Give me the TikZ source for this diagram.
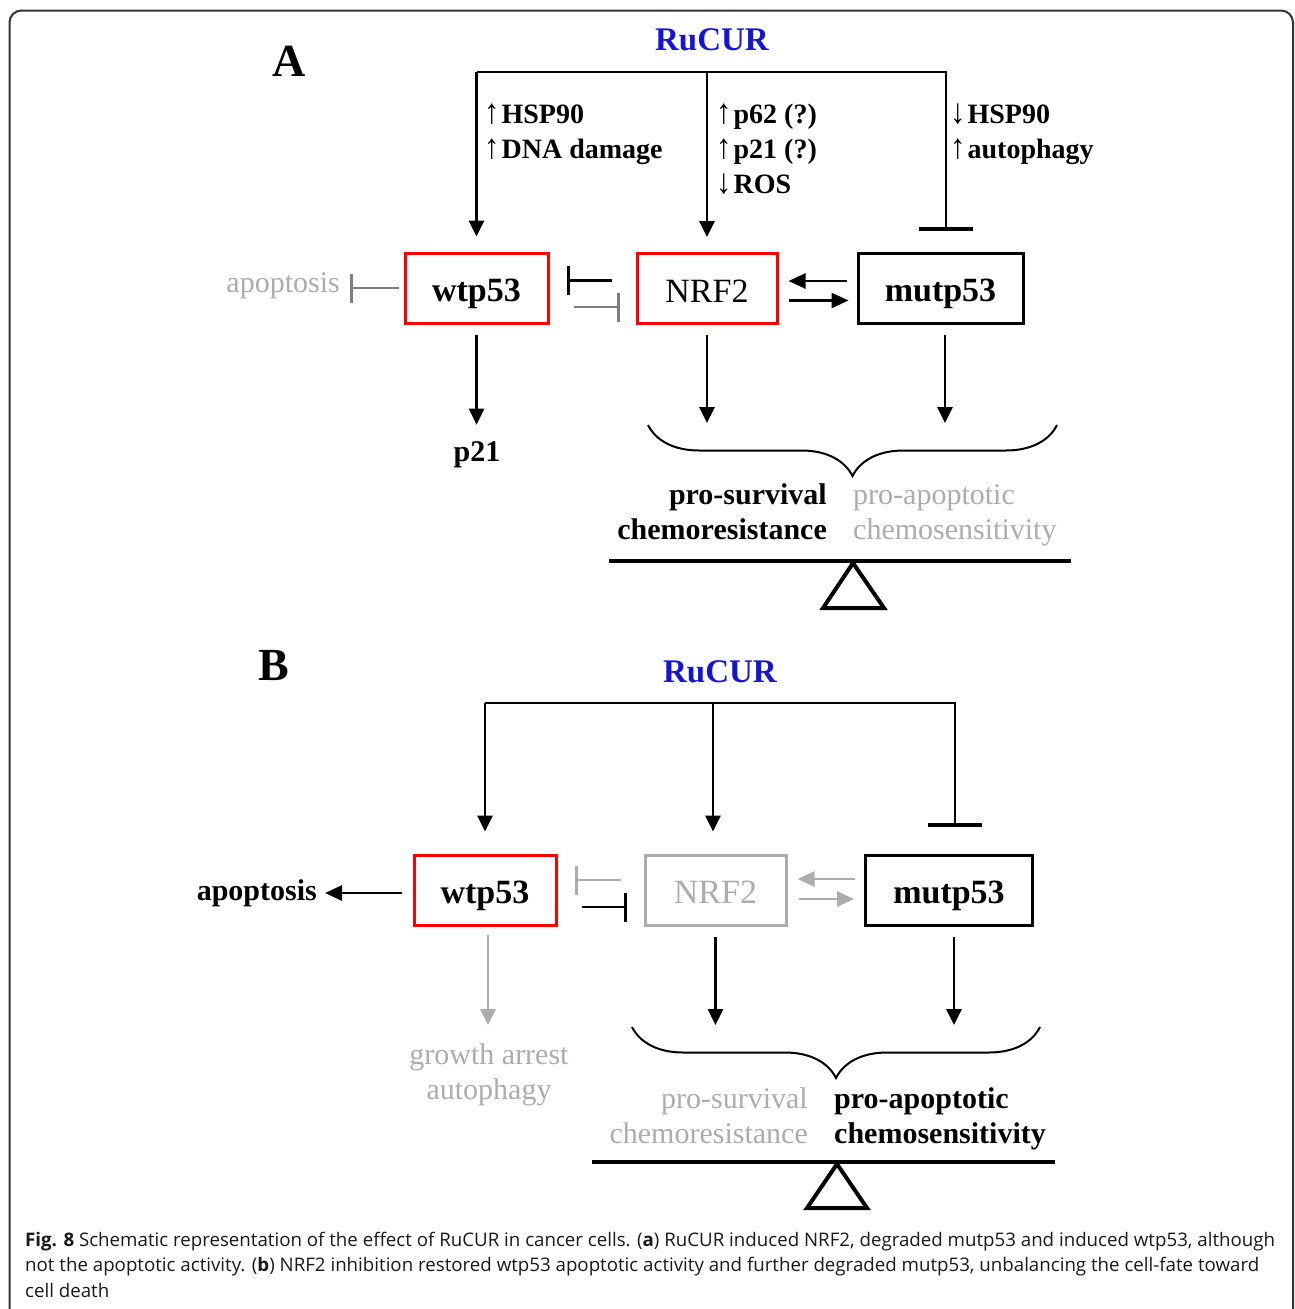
\documentclass[tikz,border=0pt]{standalone}
\usepackage{fontspec}
\setmainfont{Liberation Serif}
\newfontfamily\capfont{Open Sans}
\usetikzlibrary{
    arrows.meta
  , calc
  , positioning
  , decorations.pathreplacing
}

\definecolor{rucurblue}{RGB}{20,20,215}
\definecolor{fadegray}{RGB}{172,172,172}
\definecolor{midgray}{RGB}{125,125,125}

\newcommand{\boxfont}{\fontsize{34}{40}\selectfont}
\newcommand{\lblfont}{\fontsize{28}{35}\selectfont\bfseries}
\newcommand{\outfont}{\fontsize{30}{35}\selectfont}
\newcommand{\panelfont}{\fontsize{46}{50}\selectfont\bfseries}
\newcommand{\rucurfont}{\fontsize{33}{40}\selectfont\bfseries}
\newcommand{\capsize}{\capfont\fontsize{18.7}{25.5}\selectfont}
\newcommand{\up}{\scalebox{1.1}[1.25]{↑}\kern2pt}
\newcommand{\down}{\scalebox{1.1}[1.25]{↓}\kern2pt}

\tikzset{
  box/.style={draw, line width=3pt, inner sep=0pt, minimum height=70pt, text height=27pt, text depth=0pt, font=\boxfont},
  conn/.style={line width=2.8pt},
  arr/.style={conn, -{Triangle[length=16pt,width=15pt]}},
  sidearr/.style={conn, -{Triangle[length=17pt,width=15pt]}},
  inhib/.style={conn, -{Bar[width=29pt,line width=3pt]}},
  bigbar/.style={conn, -{Bar[width=54pt,line width=3.5pt]}},
  brc/.style={line width=2pt, decorate, decoration={brace, amplitude=51pt}},
  beam/.style={line width=4pt},
  txt/.style={inner sep=0pt, font=\outfont}
}

\begin{document}
\begin{tikzpicture}[x=1pt, y=-1pt]
  \useasboundingbox (0,0) rectangle (1295,1309);
  % Frame
  \draw[line width=2pt, black!80, rounded corners=12pt] (9.5,10.5) rectangle (1293,1340);

  % Panel A
  \node[font=\panelfont, inner sep=0pt] (labA) at (289,61) {A};
  \node[font=\rucurfont, text=rucurblue, inner sep=0pt] (rucurA) at (712,40) {RuCUR};
  \coordinate (topA) at (712,72);
  \node[box, draw=red, minimum width=143pt, font=\boxfont\bfseries] (wtA) at (476.5,288) {wtp53};
  \node[box, draw=red, minimum width=140pt] (nrfA) at (707,288.5) {NRF2};
  \node[box, minimum width=165pt, font=\boxfont\bfseries] (mtA) at (940.5,288) {mutp53};
  % RuCUR effects
  \draw[arr, shorten >=15pt] (wtA.north |- topA) -- (wtA.north);
  \draw[arr, shorten >=15pt] (nrfA.north |- topA) -- (nrfA.north);
  \draw[bigbar, shorten >=21pt] (wtA.north |- topA) -| ([xshift=5.5pt]mtA.north);
  \node[txt, font=\lblfont, anchor=north west, align=left] (lblwtA) at (484,99) {\strut\up HSP90\\\strut\up DNA damage};
  \node[txt, font=\lblfont, anchor=north west, align=left] (lblnrfA) at (716,99) {\strut\up p62 (?)\\\strut\up p21 (?)\\\strut\down ROS};
  \node[txt, font=\lblfont, anchor=north west, align=left] (lblmtA) at (950,99) {\strut\down HSP90\\\strut\up autophagy};
  % Apoptosis blocked
  \node[txt, text=fadegray, anchor=east] (apoA) at (340,286) {apoptosis};
  \draw[inhib, midgray, shorten <=5pt, shorten >=10pt] (wtA.west) -- (wtA.west -| apoA.east);
  % wtp53 / NRF2 inhibition
  \draw[inhib, shorten <=24pt, shorten >=17pt] ([yshift=8pt]nrfA.west) -- ([yshift=8pt]nrfA.west -| wtA.east);
  \draw[inhib, midgray, shorten <=24pt, shorten >=16pt] ([yshift=-19pt]wtA.east) -- ([yshift=-19pt]wtA.east -| nrfA.west);
  % NRF2 / mutp53
  \draw[sidearr, shorten <=10pt, shorten >=10pt] ([yshift=7pt]mtA.west) -- ([yshift=7pt]mtA.west -| nrfA.east);
  \draw[sidearr, shorten <=10pt, shorten >=8pt] ([yshift=-12pt]nrfA.east) -- ([yshift=-12pt]nrfA.east -| mtA.west);
  % Outputs
  \node[txt, font=\outfont\bfseries] (p21A) at (477,455) {p21};
  \draw[arr, shorten <=10pt, shorten >=17pt] (wtA.south) -- (wtA.south |- p21A.north);
  \coordinate (brLA) at (648,425);
  \coordinate (brRA) at (1057,425);
  \draw[arr, shorten <=10pt, shorten >=2pt] (nrfA.south) -- (nrfA.south |- brLA);
  \draw[arr, shorten <=10pt, shorten >=2pt] ([xshift=4.5pt]mtA.south) -- ([xshift=4.5pt]mtA.south |- brLA);
  \draw[brc] (brRA) -- (brLA);
  \node[txt, anchor=north east, align=right, font=\outfont\bfseries] (survA) at (827,480) {\strut pro-survival\\\strut chemoresistance};
  \node[txt, anchor=north west, align=left, text=fadegray] (apopA) at (853,480) {\strut pro-apoptotic\\\strut chemosensitivity};
  % Balance
  \draw[beam] (609,561) -- (1071,561);
  \draw[beam, fill=white] (853,563) -- (884,608) -- (823,608) -- cycle;

  % Panel B
  \node[font=\panelfont, inner sep=0pt] (labB) at (274,665) {B};
  \node[font=\rucurfont, text=rucurblue, inner sep=0pt] (rucurB) at (720,672) {RuCUR};
  \coordinate (topB) at (720,703);
  \node[box, draw=red, minimum width=142pt, font=\boxfont\bfseries] (wtB) at (485,890) {wtp53};
  \node[box, draw=fadegray, text=fadegray, minimum width=141pt] (nrfB) at (715.5,890) {NRF2};
  \node[box, minimum width=167pt, font=\boxfont\bfseries] (mtB) at (949,890) {mutp53};
  % RuCUR effects
  \draw[arr, shorten >=22pt] (wtB.north |- topB) -- (wtB.north);
  \draw[arr, shorten >=22pt] ([xshift=-2.5pt]nrfB.north |- topB) -- ([xshift=-2.5pt]nrfB.north);
  \draw[bigbar, shorten >=27pt] (wtB.north |- topB) -| ([xshift=6pt]mtB.north);
  % Apoptosis restored
  \node[txt, font=\outfont\bfseries, anchor=east] (apoB) at (317,893) {apoptosis};
  \draw[sidearr, shorten <=11pt, shorten >=8pt] ([yshift=-3pt]wtB.west) -- ([yshift=-3pt]wtB.west -| apoB.east);
  % wtp53 / NRF2 inhibition
  \draw[inhib, fadegray, shorten <=23pt, shorten >=17pt] ([yshift=10pt]nrfB.west) -- ([yshift=10pt]nrfB.west -| wtB.east);
  \draw[inhib, shorten <=24pt, shorten >=17pt] ([yshift=-17pt]wtB.east) -- ([yshift=-17pt]wtB.east -| nrfB.west);
  % NRF2 / mutp53
  \draw[sidearr, fadegray, shorten <=9pt, shorten >=10pt] ([yshift=11pt]mtB.west) -- ([yshift=11pt]mtB.west -| nrfB.east);
  \draw[sidearr, fadegray, shorten <=11pt, shorten >=10pt] ([yshift=-9pt]nrfB.east) -- ([yshift=-9pt]nrfB.east -| mtB.west);
  % Outputs
  \node[txt, anchor=north, align=center, text=fadegray] (growB) at (489,1040) {\strut growth arrest\\\strut autophagy};
  \draw[arr, fadegray, shorten <=8pt, shorten >=15pt] ([xshift=3pt]wtB.south) -- ([xshift=3pt]wtB.south |- growB.north);
  \coordinate (brLB) at (632,1027);
  \coordinate (brRB) at (1040,1027);
  \draw[arr, shorten <=10pt, shorten >=2pt] (nrfB.south) -- (nrfB.south |- brLB);
  \draw[arr, shorten <=10pt, shorten >=2pt] ([xshift=5pt]mtB.south) -- ([xshift=5pt]mtB.south |- brLB);
  \draw[brc] (brRB) -- (brLB);
  \node[txt, anchor=north east, align=right, text=fadegray] (survB) at (808,1084) {\strut pro-survival\\\strut chemoresistance};
  \node[txt, anchor=north west, align=left, font=\outfont\bfseries] (apopB) at (834,1084) {\strut pro-apoptotic\\\strut chemosensitivity};
  % Balance
  \draw[beam] (592,1162) -- (1055,1162);
  \draw[beam, fill=white] (837,1164) -- (867,1208) -- (807,1208) -- cycle;

  % Caption
  \node[inner sep=0pt, anchor=north west, align=left, font=\capsize, text=black!90] (caption) at (25,1228) {\strut\textbf{Fig. 8} Schematic representation of the effect of RuCUR in cancer cells. (\textbf{a}) RuCUR induced NRF2, degraded mutp53 and induced wtp53, although\\\strut not the apoptotic activity. (\textbf{b}) NRF2 inhibition restored wtp53 apoptotic activity and further degraded mutp53, unbalancing the cell-fate toward\\\strut cell death};
\end{tikzpicture}
\end{document}
